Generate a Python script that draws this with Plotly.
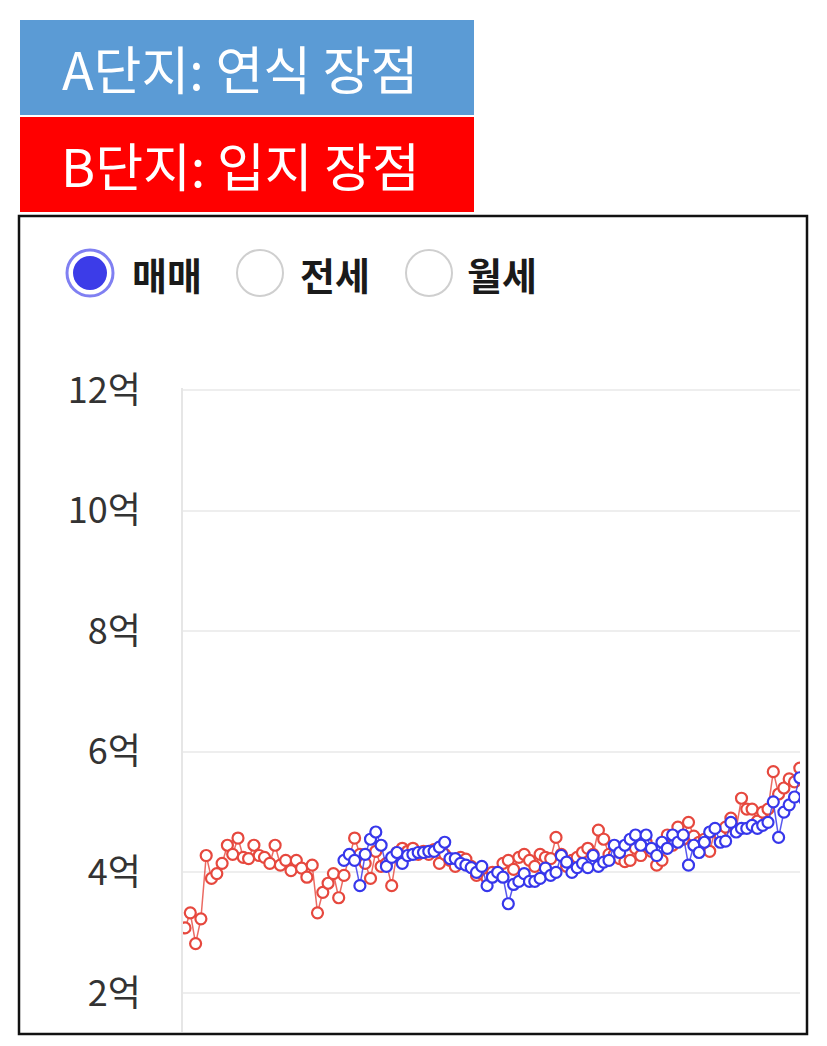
import plotly.graph_objects as go

W, H = 827, 1046

# ---- data (억 원) ----
b_start = 0
b_values = [3.08, 3.33, 2.82, 3.23, 4.28, 3.90, 3.98, 4.15, 4.45, 4.30,
            4.57, 4.25, 4.23, 4.45, 4.28, 4.25, 4.15, 4.45, 4.12, 4.20,
            4.03, 4.20, 4.07, 3.92, 4.12, 3.33, 3.67, 3.82, 3.98, 3.58,
            3.95, 4.25, 4.57, 4.30, 4.15, 3.90, 4.35, 4.10, 4.15, 3.78,
            4.33, 4.40, 4.35, 4.40, 4.30, 4.35, 4.30, 4.38, 4.15, 4.30,
            4.20, 4.10, 4.25, 4.22, 4.10, 3.95, 3.98, 3.90, 4.00, 4.00,
            4.15, 4.20, 4.05, 4.25, 4.30, 4.20, 4.10, 4.30, 4.25, 4.23,
            4.58, 4.30, 4.10, 4.20, 4.25, 4.33, 4.40, 4.30, 4.70, 4.55,
            4.30, 4.30, 4.23, 4.18, 4.20, 4.40, 4.28, 4.50, 4.35, 4.12,
            4.20, 4.62, 4.45, 4.75, 4.55, 4.83, 4.60, 4.50, 4.55, 4.35,
            4.70, 4.60, 4.75, 4.90, 4.72, 5.23, 5.05, 5.05, 4.85, 5.00,
            5.05, 5.67, 5.30, 5.40, 5.55, 5.50, 5.73]

a_start = 30
a_values = [4.20, 4.30, 4.20, 3.78, 4.30, 4.55, 4.67, 4.45, 4.10, 4.25,
            4.33, 4.15, 4.28, 4.30, 4.33, 4.33, 4.35, 4.35, 4.42, 4.50,
            4.23, 4.23, 4.15, 4.12, 4.08, 4.00, 4.10, 3.78, 3.92, 4.00,
            3.92, 3.48, 3.80, 3.85, 3.98, 3.85, 3.85, 3.90, 4.07, 3.95,
            4.00, 4.28, 4.17, 4.00, 4.08, 4.15, 4.08, 4.28, 4.10, 4.17,
            4.20, 4.45, 4.33, 4.45, 4.55, 4.62, 4.45, 4.62, 4.40, 4.28,
            4.50, 4.40, 4.62, 4.50, 4.62, 4.12, 4.45, 4.33, 4.50, 4.67,
            4.73, 4.50, 4.52, 4.83, 4.67, 4.73, 4.73, 4.78, 4.73, 4.78,
            4.83, 5.17, 4.58, 5.00, 5.12, 5.25, 5.57, 5.20]

y_ticks = [2, 4, 6, 8, 10, 12]
y_tick_labels = ["2억", "4억", "6억", "8억", "10억", "12억"]

box_labels = ["A단지: 연식 장점", "B단지: 입지 장점"]
radio_labels = ["매매", "전세", "월세"]

FONT = "Noto Sans CJK KR, Noto Sans, sans-serif"


def px(x):
    return x / W


def py(y):
    return 1 - y / H


fig = go.Figure()

fig.add_trace(go.Scatter(
    x=list(range(b_start, b_start + len(b_values))), y=b_values,
    mode="lines+markers", name="B",
    line=dict(color="rgba(232,80,70,0.85)", width=1.5),
    marker=dict(symbol="circle", size=11, color="white",
                line=dict(color="rgb(230,72,62)", width=2.2)),
    cliponaxis=True,
))
fig.add_trace(go.Scatter(
    x=list(range(a_start, a_start + len(a_values))), y=a_values,
    mode="lines+markers", name="A",
    line=dict(color="rgba(60,60,235,0.85)", width=1.5),
    marker=dict(symbol="circle", size=11, color="white",
                line=dict(color="rgb(55,55,235)", width=2.2)),
    cliponaxis=True,
))

shapes = []
annotations = []

# header boxes
box_colors = ["#5B9BD5", "#FF0000"]
box_y = [(20, 115), (117, 212)]
for lab, col, (y0, y1) in zip(box_labels, box_colors, box_y):
    shapes.append(dict(type="rect", xref="paper", yref="paper",
                       x0=px(20), x1=px(474), y0=py(y1), y1=py(y0),
                       fillcolor=col, line=dict(width=0), layer="below"))
    annotations.append(dict(xref="paper", yref="paper", x=px(240), y=py((y0 + y1) / 2),
                            text=lab, showarrow=False, xanchor="center", yanchor="middle",
                            font=dict(family=FONT, size=52, color="white")))

# chart frame
shapes.append(dict(type="rect", xref="paper", yref="paper",
                   x0=px(19), x1=px(807), y0=py(1034), y1=py(216),
                   line=dict(color="#111111", width=2.5), fillcolor="rgba(0,0,0,0)"))

# radio buttons
cy = 273
centers = [90, 260, 429]
text_x = [130, 298, 465]
for i, (cx, tx, lab) in enumerate(zip(centers, text_x, radio_labels)):
    if i == 0:
        shapes.append(dict(type="circle", xref="paper", yref="paper",
                           x0=px(cx - 23), x1=px(cx + 23), y0=py(cy + 23), y1=py(cy - 23),
                           fillcolor="white", line=dict(color="#8080f2", width=3)))
        shapes.append(dict(type="circle", xref="paper", yref="paper",
                           x0=px(cx - 17), x1=px(cx + 17), y0=py(cy + 17), y1=py(cy - 17),
                           fillcolor="#3c3ce8", line=dict(width=0)))
    else:
        shapes.append(dict(type="circle", xref="paper", yref="paper",
                           x0=px(cx - 23), x1=px(cx + 23), y0=py(cy + 23), y1=py(cy - 23),
                           fillcolor="white", line=dict(color="#cfcfcf", width=2)))
    annotations.append(dict(xref="paper", yref="paper", x=px(tx), y=py(cy),
                            text="<b>" + lab + "</b>", showarrow=False,
                            xanchor="left", yanchor="middle",
                            font=dict(family=FONT, size=38, color="#1a1a1a")))

y_top_px, y_bot_px = 390, 1032
x_left_px, x_right_px = 183, 800
px_per_unit = (993 - 390) / 10.0
y_min = 2 - (y_bot_px - 993) / px_per_unit
spacing = 5.3
x_min = -(185 - x_left_px) / spacing
x_max = x_min + (x_right_px - x_left_px) / spacing

fig.update_layout(
    width=W, height=H,
    margin=dict(l=0, r=0, t=0, b=0, pad=0, autoexpand=False),
    paper_bgcolor="white", plot_bgcolor="white",
    showlegend=False,
    shapes=shapes, annotations=annotations,
    xaxis=dict(domain=[px(x_left_px), px(x_right_px)], range=[x_min, x_max],
               showgrid=False, zeroline=False, showticklabels=False,
               visible=False, automargin=False),
    yaxis=dict(domain=[py(y_bot_px), py(y_top_px - 2)], range=[y_min, 12 + 2 / px_per_unit],
               tickvals=y_ticks, ticktext=y_tick_labels,
               tickfont=dict(family=FONT, size=36, color="#333333"),
               showgrid=True, gridcolor="#eeeeee", gridwidth=2,
               zeroline=False, showline=True, linecolor="#e6e6e6", linewidth=2,
               ticks="", ticklabelstandoff=33, automargin=False),
    hovermode=False,
)

fig.write_html("out.html", config={"displayModeBar": False},
               post_script="document.body.style.margin='0';")
